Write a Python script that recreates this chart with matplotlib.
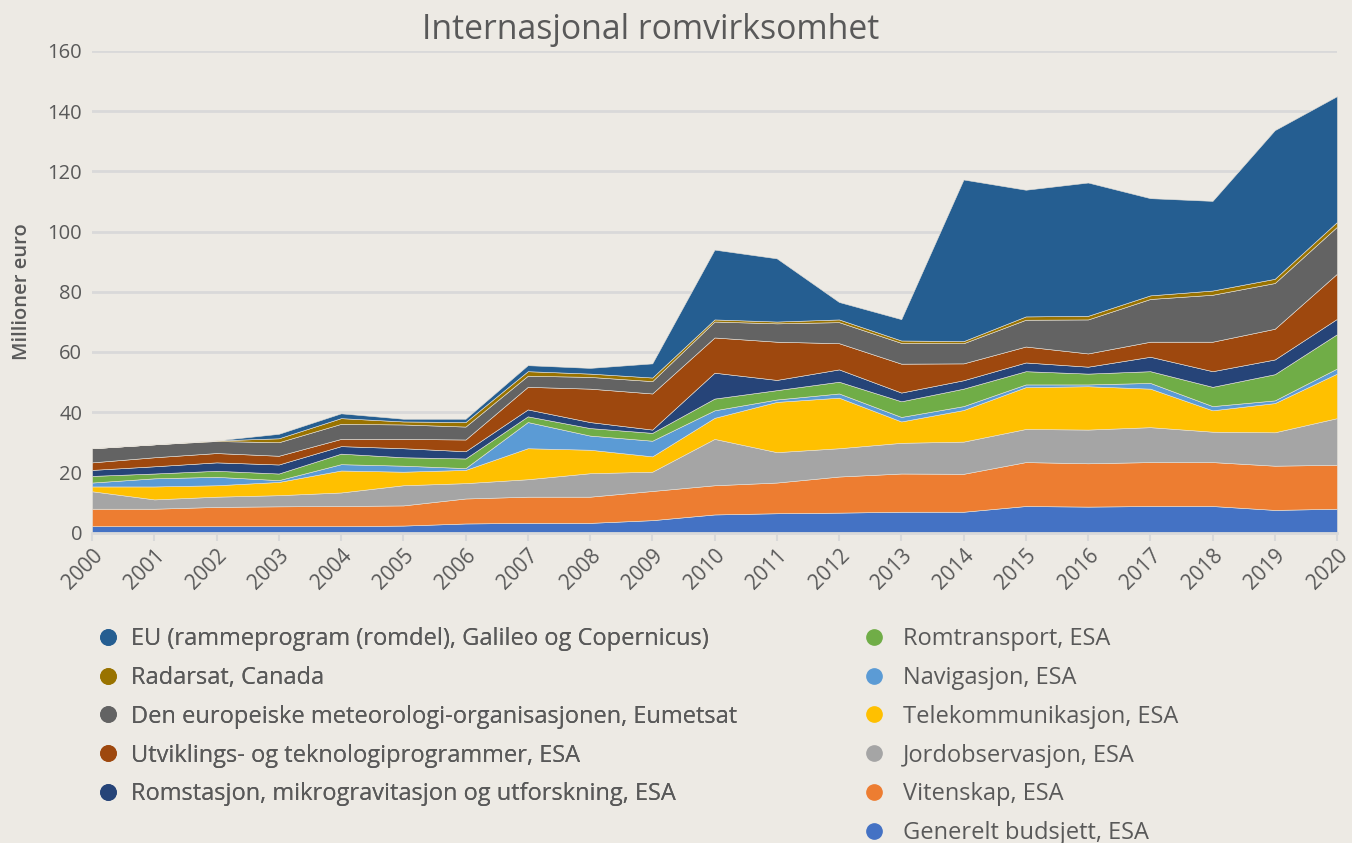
import matplotlib
matplotlib.use("Agg")
import matplotlib.pyplot as plt
from matplotlib.lines import Line2D

years = list(range(2000, 2021))

generelt = [2.1, 2.1, 2.1, 2.1, 2.1, 2.3, 3.0, 3.2, 3.2, 4.1, 6.0, 6.4, 6.6, 6.9, 6.9, 8.8, 8.6, 8.8, 8.8, 7.5, 7.9]
vitenskap = [5.8, 5.8, 6.4, 6.6, 6.7, 6.7, 8.3, 8.7, 8.7, 9.7, 9.7, 10.2, 12.0, 12.7, 12.6, 14.6, 14.4, 14.6, 14.6, 14.7, 14.6]
jordobs = [5.8, 3.1, 3.4, 3.7, 4.5, 6.7, 5.1, 5.8, 7.8, 6.4, 15.4, 10.1, 9.4, 10.2, 10.7, 11.0, 11.2, 11.6, 10.1, 11.1, 15.5]
telekom = [1.6, 4.3, 3.8, 4.4, 7.3, 4.5, 4.4, 10.3, 7.8, 5.1, 7.0, 16.7, 16.8, 7.1, 10.5, 13.9, 14.4, 12.8, 7.1, 9.7, 14.8]
navigasjon = [1.3, 2.7, 2.8, 0.6, 2.1, 2.0, 0.6, 8.7, 4.7, 5.2, 2.5, 0.8, 1.4, 1.5, 1.3, 0.9, 0.6, 1.9, 1.4, 0.9, 1.7]
romtransport = [2.2, 1.6, 2.0, 2.2, 3.5, 2.8, 3.2, 1.9, 2.5, 2.6, 3.9, 3.1, 3.9, 5.2, 5.8, 4.4, 3.6, 3.9, 6.4, 8.7, 11.4]
romstasjon = [2.0, 2.4, 2.8, 3.0, 2.5, 3.0, 2.4, 2.3, 2.0, 1.1, 8.6, 3.4, 4.1, 2.9, 2.8, 2.9, 2.3, 4.8, 5.2, 4.9, 5.1]
utvikling = [2.5, 3.0, 3.1, 2.9, 2.4, 3.1, 3.9, 7.5, 11.1, 12.0, 11.7, 12.7, 8.7, 9.6, 5.6, 5.3, 4.4, 5.0, 9.8, 10.2, 15.0]
eumetsat = [4.7, 4.3, 4.0, 4.5, 5.0, 4.8, 4.3, 3.7, 3.9, 4.1, 5.3, 6.1, 7.0, 6.9, 6.7, 8.9, 11.3, 14.2, 15.6, 15.2, 15.6]
radarsat = [0.0, 0.0, 0.2, 1.3, 1.9, 1.0, 1.5, 1.5, 1.1, 1.2, 0.7, 0.6, 0.9, 0.8, 0.7, 1.1, 1.2, 1.2, 1.4, 1.4, 1.6]
eu = [0.0, 0.0, 0.0, 1.5, 1.6, 0.9, 1.1, 2.0, 1.9, 4.7, 23.2, 21.0, 5.8, 7.1, 53.7, 42.1, 44.3, 32.3, 29.8, 49.4, 41.8]

labels = [
    "Generelt budsjett, ESA",
    "Vitenskap, ESA",
    "Jordobservasjon, ESA",
    "Telekommunikasjon, ESA",
    "Navigasjon, ESA",
    "Romtransport, ESA",
    "Romstasjon, mikrogravitasjon og utforskning, ESA",
    "Utviklings- og teknologiprogrammer, ESA",
    "Den europeiske meteorologi-organisasjonen, Eumetsat",
    "Radarsat, Canada",
    "EU (rammeprogram (romdel), Galileo og Copernicus)",
]
colors = ["#4472C4", "#ED7D31", "#A5A5A5", "#FFC000", "#5B9BD5", "#70AD47",
          "#264478", "#9E480E", "#636363", "#997300", "#255E91"]
series = [generelt, vitenskap, jordobs, telekom, navigasjon, romtransport,
          romstasjon, utvikling, eumetsat, radarsat, eu]
yticks = [0, 20, 40, 60, 80, 100, 120, 140, 160]

BG = "#EDEAE4"
TXT = "#595959"
FONT = ["Open Sans", "DejaVu Sans"]
plt.rcParams["font.family"] = FONT

fig = plt.figure(figsize=(13.52, 8.43), dpi=100, facecolor=BG)
ax = fig.add_axes([92/1352, 1-532.5/843, (1337-92)/1352, (532.5-51)/843])
ax.set_facecolor(BG)

ax.stackplot(years, *series, colors=colors, edgecolor="#E6E2DA", linewidth=0.4, zorder=2)

ax.set_xlim(2000, 2020)
ax.set_ylim(0, 160)
ax.set_yticks(yticks)
ax.set_yticklabels([str(v) for v in yticks], fontsize=14.5, color=TXT)
ax.grid(axis="y", color="#D9D9D9", linewidth=2, zorder=0)
ax.set_axisbelow(True)
ax.set_xticks(years)
ax.set_xticklabels([str(y) for y in years], rotation=45, ha="right", va="top",
                   rotation_mode="anchor", fontsize=15, color=TXT)
ax.tick_params(axis="y", length=0, pad=7)
ax.tick_params(axis="x", length=6, color="#D9D9D9", width=1.5, pad=3)
for s in ["top", "right", "left"]:
    ax.spines[s].set_visible(False)
ax.spines["bottom"].set_color("#D9D9D9")
ax.spines["bottom"].set_linewidth(2)

ax.set_ylabel("Millioner euro", fontsize=14.5, color=TXT, fontweight="semibold")
ax.yaxis.set_label_coords(-0.048, 0.5)

fig.text(651/1352, 1-39/843, "Internasjonal romvirksomhet", ha="center", va="baseline",
         fontsize=24.3, color=TXT)

def handle(c):
    return Line2D([], [], marker="o", linestyle="none", markersize=11,
                  markerfacecolor=c, markeredgecolor=c)

left_idx = [10, 9, 8, 7, 6]
right_idx = [5, 4, 3, 2, 1, 0]
common = dict(loc="upper left", frameon=False, fontsize=17, labelcolor=TXT,
              labelspacing=0.63, handlelength=1.0, borderaxespad=0, borderpad=0)
leg1 = fig.legend([handle(colors[i]) for i in left_idx], [labels[i] for i in left_idx],
                  bbox_to_anchor=(96/1352, 1-627/843), handletextpad=0.5, **common)
leg2 = fig.legend([handle(colors[i]) for i in right_idx], [labels[i] for i in right_idx],
                  bbox_to_anchor=(862/1352, 1-627/843), handletextpad=0.75, **common)
fig.add_artist(leg1)

fig.savefig("out.png", dpi=100, facecolor=BG)
